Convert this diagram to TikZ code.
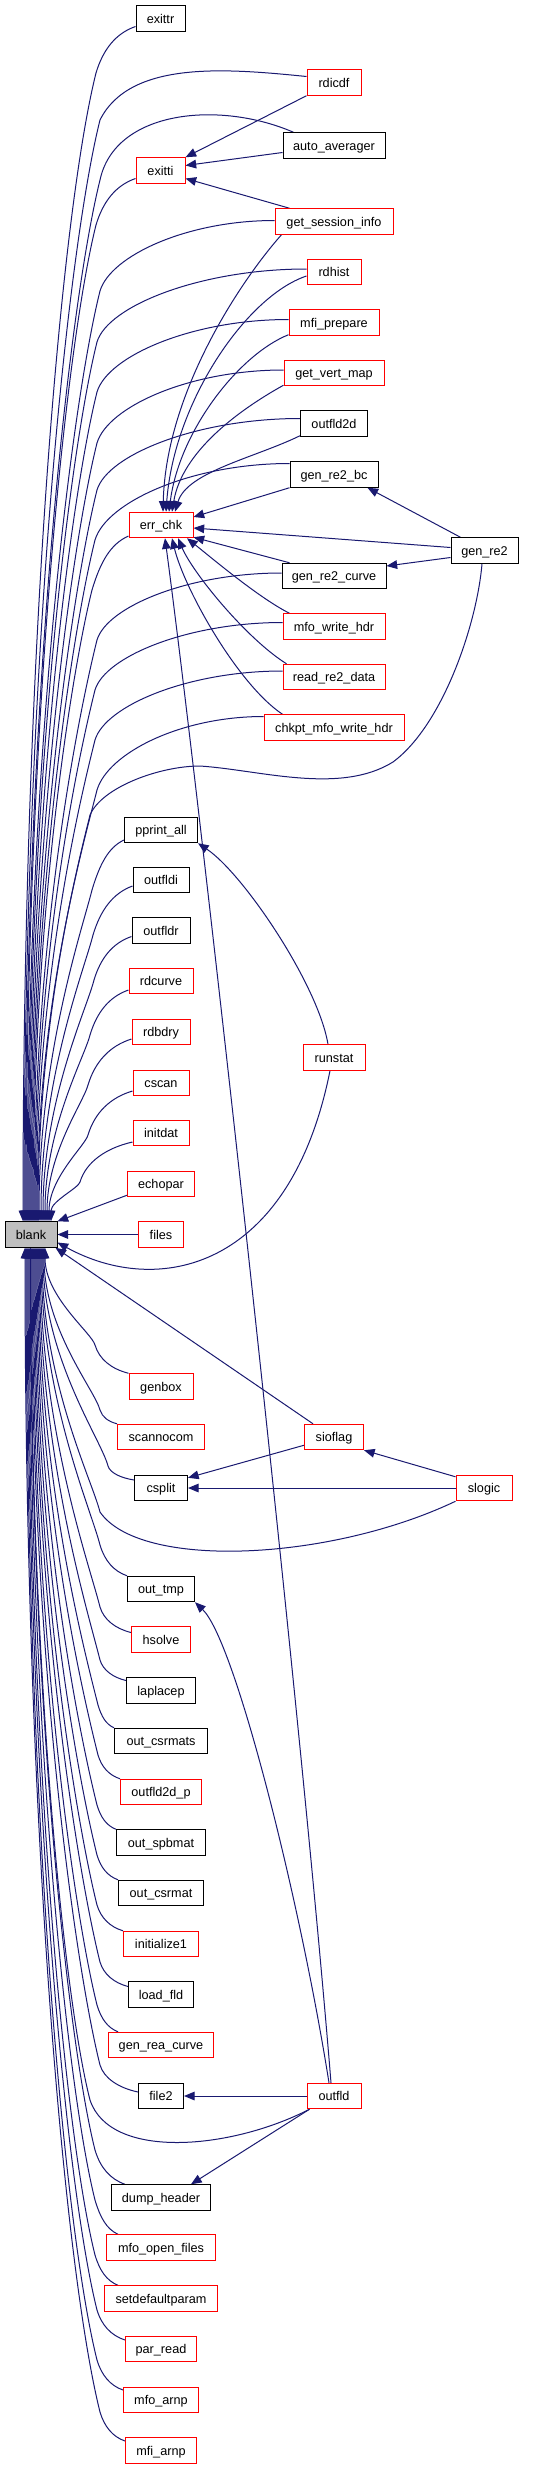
\documentclass[tikz,border=0pt]{standalone}
\usepackage{fontspec}
\setmainfont{Liberation Sans}
\usetikzlibrary{arrows.meta,calc,backgrounds}
\definecolor{edgecol}{HTML}{191970}
\definecolor{blankfill}{HTML}{BFBFBF}
\begin{document}
\begin{tikzpicture}[x=0.75pt,y=-0.75pt,
  box/.style={draw, rectangle, line width=0.75pt, fill=white, inner sep=0pt,
    minimum height=19.1pt, text height=6.8pt, text depth=0pt,
    font=\fontsize{9.5pt}{11pt}\selectfont},
  rbox/.style={box, draw=red},
  kbox/.style={box, draw=black},
  bw/.style={minimum width=#1*0.75pt},
  >={Triangle[length=8pt,width=6.5pt]},
  cedge/.style={draw=edgecol, line width=0.75pt, <-}]
\useasboundingbox (0,0) rectangle (533,2469);

% ---- nodes ----
\node[kbox,bw=52,fill=blankfill] (blank) at (31,1234.5) {blank};
\node[kbox,bw=49] (exittr) at (160.5,18.5) {exittr};
\node[rbox,bw=54] (rdicdf) at (334,82.5) {rdicdf};
\node[kbox,bw=102] (autoaverager) at (334,145.5) {auto\_averager};
\node[rbox,bw=49] (exitti) at (160.5,170.5) {exitti};
\node[rbox,bw=118] (getsessioninfo) at (334,221.5) {get\_session\_info};
\node[rbox,bw=54] (rdhist) at (334,272) {rdhist};
\node[rbox,bw=90] (mfiprepare) at (334,322.5) {mfi\_prepare};
\node[rbox,bw=100] (getvertmap) at (334,373) {get\_vert\_map};
\node[kbox,bw=67] (outfldtwod) at (334,423.5) {outfld2d};
\node[kbox,bw=88] (genrebc) at (334,474.5) {gen\_re2\_bc};
\node[rbox,bw=64] (errchk) at (161,525) {err\_chk};
\node[kbox,bw=67] (genre) at (484.5,550.5) {gen\_re2};
\node[kbox,bw=104] (genrecurve) at (334,576) {gen\_re2\_curve};
\node[rbox,bw=102] (mfowritehdr) at (334,626.5) {mfo\_write\_hdr};
\node[rbox,bw=102] (readretwodata) at (334,677) {read\_re2\_data};
\node[rbox,bw=140] (chkpt) at (334,727.5) {chkpt\_mfo\_write\_hdr};
\node[kbox,bw=73] (pprintall) at (161,830) {pprint\_all};
\node[kbox,bw=56] (outfldi) at (161,880) {outfldi};
\node[kbox,bw=58] (outfldr) at (161,930.5) {outfldr};
\node[rbox,bw=64] (rdcurve) at (161,981) {rdcurve};
\node[rbox,bw=58] (rdbdry) at (161,1032) {rdbdry};
\node[rbox,bw=62] (runstat) at (334,1057.5) {runstat};
\node[rbox,bw=56] (cscan) at (161,1083) {cscan};
\node[rbox,bw=56] (initdat) at (161,1133) {initdat};
\node[rbox,bw=67] (echopar) at (161,1184) {echopar};
\node[rbox,bw=45] (files) at (161,1234.5) {files};
\node[rbox,bw=64] (genbox) at (161,1386.5) {genbox};
\node[rbox,bw=87] (scannocom) at (161,1437) {scannocom};
\node[rbox,bw=59] (sioflag) at (334,1437) {sioflag};
\node[kbox,bw=53] (csplit) at (161,1488) {csplit};
\node[rbox,bw=56] (slogic) at (484,1488) {slogic};
\node[kbox,bw=67] (outtmp) at (161,1589) {out\_tmp};
\node[rbox,bw=59] (hsolve) at (161,1639.5) {hsolve};
\node[kbox,bw=69] (laplacep) at (161,1690.5) {laplacep};
\node[kbox,bw=93] (outcsrmats) at (161,1741) {out\_csrmats};
\node[rbox,bw=81] (outfldtwodp) at (161,1792) {outfld2d\_p};
\node[kbox,bw=89] (outspbmat) at (161,1842.5) {out\_spbmat};
\node[kbox,bw=85] (outcsrmat) at (161,1893) {out\_csrmat};
\node[rbox,bw=75] (initializeone) at (161,1944) {initialize1};
\node[kbox,bw=65] (loadfld) at (161,1994.5) {load\_fld};
\node[rbox,bw=105] (genreacurve) at (161,2045) {gen\_rea\_curve};
\node[kbox,bw=45] (filetwo) at (161,2096) {file2};
\node[rbox,bw=54] (outfld) at (334,2096) {outfld};
\node[kbox,bw=99] (dumpheader) at (161,2197.5) {dump\_header};
\node[rbox,bw=109] (mfoopenfiles) at (161,2247.5) {mfo\_open\_files};
\node[rbox,bw=113] (setdefaultparam) at (161,2298.5) {setdefaultparam};
\node[rbox,bw=71] (parread) at (161,2349) {par\_read};
\node[rbox,bw=75] (mfoarnp) at (161,2400) {mfo\_arnp};
\node[rbox,bw=71] (mfiarnp) at (161,2450.5) {mfi\_arnp};

% ---- connectors ----
\begin{scope}[on background layer]
% callers of blank placed above it
\foreach \n/\an/\ox/\oy/\ex/\ey/\sx/\kx/\ky in {
 exittr/west/0/8/136/26.5/-8/96/73,
 exitti/west/0/8/136/178.5/-5/96/225,
 getsessioninfo/west/0/-1/275/220.5/-4/100/291,
 rdhist/west/0/-3/307/269/-3/97/342,
 mfiprepare/west/0/-3/289/319.5/-2/97/392,
 getvertmap/west/0/-3/284/370/-1/97/443,
 outfldtwod/west/0/-5/300/418.5/0/97/490,
 genrebc/west/0/-11/290/463.5/1/95/540,
 errchk/west/0/11/129/536/2/92/590,
 genrecurve/west/0/-3/282/573/3/97/640,
 mfowritehdr/west/0/-4/283/622.5/4/95/690,
 readretwodata/west/0/-6/283/671/5/95/740,
 chkpt/west/0/-11/264/716.5/6/97/790,
 pprintall/west/0/10/124/840/8/92/890,
 outfldi/west/0/6/133/886/10/93/935,
 outfldr/west/0/6/132/936.5/12/94/980,
 rdcurve/west/0/9/129/990/14/90/1035,
 rdbdry/west/0/7/132/1039/16/88/1085,
 cscan/west/0/8/133/1091/18/88/1135,
 initdat/west/0/9/133/1142/20/80/1182}
{
 \pgfmathsetmacro\myH{1222-\ky}
 \pgfmathsetmacro\myB{max(6,0.12*\myH)}
 \pgfmathsetmacro\myBa{-0.25*\myB}
 \pgfmathsetmacro\myC{-0.5*\myH}
 \pgfmathsetmacro\myAy{-0.5*(\ky-\ey)}
 \pgfmathsetmacro\myAx{-0.3*\myAy}
 \pgfmathsetmacro\myCx{-0.5*(\ex-\kx)}
 \pgfmathsetmacro\myCy{(\ex<200)*0.15*(\ky-\ey)}
 \draw[cedge] ($(blank.north)+(\sx,0)$) .. controls +(0,\myC) and +(\myBa,\myB) .. (\kx,\ky) .. controls +(\myAx,\myAy) and +(\myCx,\myCy) .. ($(\n.\an)+(\ox,\oy)$);
}
% callers of blank placed below it
\foreach \n/\an/\ox/\oy/\ex/\ey/\sx/\kx/\ky in {
 genbox/north west/0/0/129/1374/14/95/1345,
 scannocom/north west/0/0/117/1424/13/100/1410,
 csplit/west/0/-8/134/1480/12/108/1466,
 outtmp/north west/0/0/127/1576/10/100/1545,
 hsolve/west/0/-7/131/1632.5/9/100/1607,
 laplacep/west/0/-10/126/1680.5/8/100/1660,
 outcsrmats/north west/0/0/114/1728/7/98/1705,
 outfldtwodp/north west/0/0/120/1779/6/98/1755,
 outspbmat/north west/0/0/116/1830/5/97/1805,
 outcsrmat/north west/0/0/118/1880/4/97/1855,
 initializeone/north west/0/0/123/1931/3/97/1905,
 loadfld/west/0/-8/128/1986.5/2/100/1962,
 genreacurve/north west/10/0/118/2032/1/97/2005,
 filetwo/west/0/-4/138/2092/0/100/2065,
 dumpheader/north west/14/0/125/2185/-1/95/2150,
 mfoopenfiles/north west/12/0/118/2235/-2/95/2200,
 setdefaultparam/north west/14/0/118/2286/-3/95/2255,
 parread/west/0/-9/125/2340/-4/97/2310,
 mfoarnp/west/0/-10/123/2390/-5/97/2360,
 mfiarnp/west/0/-9.5/125/2441/-6/100/2412}
{
 \pgfmathsetmacro\myH{\ky-1247}
 \pgfmathsetmacro\myB{max(6,0.12*\myH)}
 \pgfmathsetmacro\myBa{-0.25*\myB}
 \pgfmathsetmacro\myBn{-\myB}
 \pgfmathsetmacro\myC{0.5*\myH}
 \pgfmathsetmacro\myAy{0.5*(\ey-\ky)}
 \pgfmathsetmacro\myAx{0.3*\myAy}
 \pgfmathsetmacro\myCx{-0.5*(\ex-\kx)}
 \pgfmathsetmacro\myCy{-0.15*(\ey-\ky)}
 \draw[cedge] ($(blank.south)+(\sx,0)$) .. controls +(0,\myC) and +(\myBa,\myBn) .. (\kx,\ky) .. controls +(\myAx,\myAy) and +(\myCx,\myCy) .. ($(\n.\an)+(\ox,\oy)$);
}
% special callers of blank
\draw[cedge] ($(blank.north)+(-7,0)$) .. controls +(0,-551) and +(-33,132) .. (100,120) .. controls +(30,-60) and +(-80,-8) .. ($(rdicdf.west)+(0,-6)$);
\draw[cedge] ($(blank.north)+(-6,0)$) .. controls +(0,-521) and +(-31,125) .. (100,180) .. controls +(15,-70) and +(-74,-32) .. ($(autoaverager.north west)+(11,0)$);
\draw[cedge] ($(blank.north)+(7,0)$) .. controls +(0,-203) and +(-12,49) .. (90,815) .. controls +(12,-28) and +(-40,0) .. (200,766) .. controls +(60,4) and +(-53,33) .. (393,762) .. controls +(50,-37) and +(-5,60) .. ($(genre.south)+(-2.5,0)$);
\draw[cedge] (blank.north east) -- ($(echopar.south west)+(0,-2)$);
\draw[cedge] (blank.east) -- (files.west);
\draw[cedge] ($(blank.east)+(0,8)$) .. controls +(100,55) and +(-40,200) .. ($(runstat.south)+(-4,0)$);
\draw[cedge] ($(blank.south east)+(-2,0)$) -- ($(sioflag.north west)+(9,0)$);
\draw[cedge] ($(blank.south)+(11,0)$) .. controls +(0,132) and +(-8,-32) .. (100,1512) .. controls +(40,58) and +(-126,60) .. (slogic.south west);
\draw[cedge] ($(blank.south)+(-0.5,0)$) .. controls +(0,426) and +(-26,-102) .. (90,2100) .. controls +(20,60) and +(-80,41) .. ($(outfld.south west)+(3,0)$);

% callers of exitti
\draw[cedge] (exitti.north east) -- (rdicdf.south west);
\draw[cedge] ($(exitti.east)+(0,-5)$) -- ($(autoaverager.west)+(0,7)$);
\draw[cedge] ($(exitti.east)+(0,8)$) -- ($(getsessioninfo.north west)+(15,0)$);

% callers of err_chk
\draw[cedge] ($(errchk.north)+(2,0)$) .. controls +(3,-120) and +(-40,45) .. ($(getsessioninfo.south west)+(7,0)$);
\draw[cedge] ($(errchk.north)+(5,0)$) .. controls +(8,-110) and +(-60,20) .. ($(rdhist.west)+(0,4)$);
\draw[cedge] ($(errchk.north)+(8,0)$) .. controls +(10,-80) and +(-50,20) .. ($(mfiprepare.south west)+(0,-1)$);
\draw[cedge] ($(errchk.north)+(11,0)$) .. controls +(10,-60) and +(-45,25) .. ($(getvertmap.south west)+(0,-1)$);
\draw[cedge] ($(errchk.north)+(14,0)$) .. controls +(12,-40) and +(-45,22) .. ($(outfldtwod.south west)+(0,-1)$);
\draw[cedge] ($(errchk.east)+(0,-8)$) -- (genrebc.south west);
\draw[cedge] ($(errchk.east)+(0,3)$) -- ($(genre.west)+(0,-3)$);
\draw[cedge] ($(errchk.south east)+(0,-1)$) -- ($(genrecurve.north west)+(8,0)$);
\draw[cedge] ($(errchk.south)+(26,0)$) .. controls +(25,20) and +(-30,-15) .. ($(mfowritehdr.north west)+(7,0)$);
\draw[cedge] ($(errchk.south)+(17,0)$) .. controls +(15,35) and +(-40,-25) .. ($(readretwodata.north west)+(4,0)$);
\draw[cedge] ($(errchk.south)+(11,0)$) .. controls +(12,50) and +(-45,-30) .. ($(chkpt.north west)+(19,0)$);
\draw[cedge] ($(errchk.south)+(4,0)$) .. controls +(35,262) and +(-31,-383) .. ($(outfld.north)+(-3,0)$);

% other connectors
\draw[cedge] ($(genrebc.south east)+(-11,0)$) -- ($(genre.north)+(-24,0)$);
\draw[cedge] ($(genrecurve.east)+(0,-10)$) -- ($(genre.west)+(0,7)$);
\draw[cedge] (pprintall.south east) .. controls +(45,30) and +(-10,-60) .. ($(runstat.north)+(-6,0)$);
\draw[cedge] (sioflag.south east) -- ($(slogic.north west)+(0,2)$);
\draw[cedge] ($(csplit.north east)+(0,3)$) -- ($(sioflag.south west)+(0,-5)$);
\draw[cedge] (csplit.east) -- (slogic.west);
\draw[cedge] (outtmp.south east) .. controls +(40,38) and +(-29,-183) .. ($(outfld.north)+(-5,0)$);
\draw[cedge] (filetwo.east) -- (outfld.west);
\draw[cedge] ($(dumpheader.north east)+(-20,0)$) -- ($(outfld.south west)+(3,0)$);
\end{scope}
\end{tikzpicture}
\end{document}
